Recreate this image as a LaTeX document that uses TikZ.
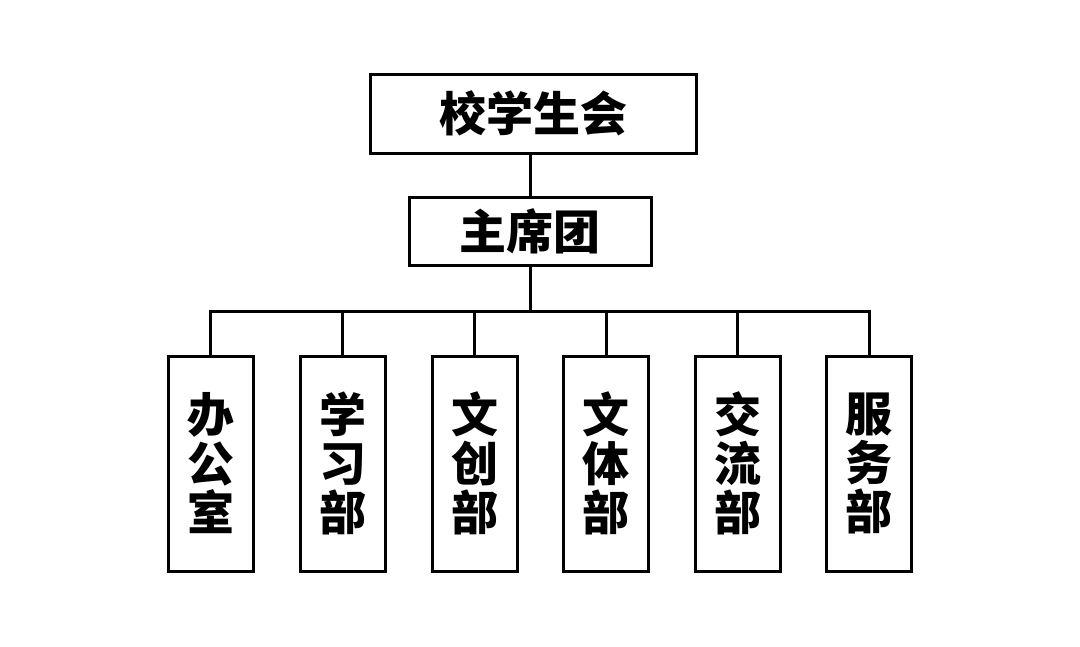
\documentclass[tikz,border=0pt]{standalone}
\usepackage{fontspec}
\newfontfamily\cjk{Noto Sans CJK SC}
\begin{document}
\begin{tikzpicture}[x=1pt,y=-1pt,
  box/.style={draw=black,line width=3pt,inner sep=0pt,align=center,font=\cjk\bfseries\fontsize{47}{49}\selectfont},
  dept/.style={box,minimum width=85pt,minimum height=215pt},
  conn/.style={line width=3pt,line cap=rect}]
\useasboundingbox (0,0) rectangle (1080,646);
\node[box,minimum width=326pt,minimum height=79pt] (top) at (533,113.5) {校学生会};
\node[box,minimum width=242pt,minimum height=68pt] (mid) at (530,231) {主席团};
\node[dept] (b1) at (210.5,463.5) {办\\公\\室};
\node[dept] (b2) at (342.5,463.5) {学\\习\\部};
\node[dept] (b3) at (474.5,463.5) {文\\创\\部};
\node[dept] (b4) at (606,463.5) {文\\体\\部};
\node[dept] (b5) at (737.5,463.5) {交\\流\\部};
\node[dept] (b6) at (869,463.5) {服\\务\\部};
\coordinate (bus) at (530,311);
\draw[line width=3pt] (mid.north |- top.south) -- (mid.north);
\draw[line width=3pt] (mid.south) -- (bus);
\draw[line width=3pt,line join=miter] (b1.north) -- (b1.north |- bus) -- (b6.north |- bus) -- (b6.north);
\foreach \n in {b2,b3,b4,b5} \draw[line width=3pt] (\n.north) -- (\n.north |- bus);
\end{tikzpicture}
\end{document}
